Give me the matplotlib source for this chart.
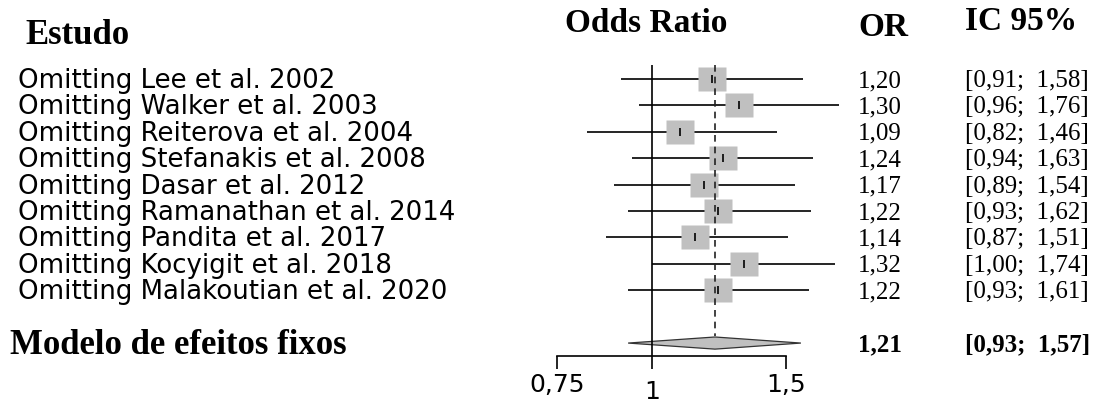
import matplotlib
matplotlib.use("Agg")
import matplotlib.pyplot as plt
import matplotlib.transforms as mtransforms
from matplotlib.ticker import NullLocator

# leave-one-out sensitivity analysis (odds ratios)
STUDIES = [
    "Omitting Lee et al. 2002",
    "Omitting Walker et al. 2003",
    "Omitting Reiterova et al. 2004",
    "Omitting Stefanakis et al. 2008",
    "Omitting Dasar et al. 2012",
    "Omitting Ramanathan et al. 2014",
    "Omitting Pandita et al. 2017",
    "Omitting Kocyigit et al. 2018",
    "Omitting Malakoutian et al. 2020",
]
OR_VALUES = [1.20, 1.30, 1.09, 1.24, 1.17, 1.22, 1.14, 1.32, 1.22]
CI_LOWER = [0.91, 0.96, 0.82, 0.94, 0.89, 0.93, 0.87, 1.00, 0.93]
CI_UPPER = [1.58, 1.76, 1.46, 1.63, 1.54, 1.62, 1.51, 1.74, 1.61]

POOLED_LABEL = "Modelo de efeitos fixos"
POOLED_OR = 1.21
POOLED_LO = 0.93
POOLED_HI = 1.57

X_TICKS = [0.75, 1, 1.5]
X_TICKLABELS = ["0,75", "1", "1,5"]

SERIF = "Liberation Serif"
SANS = "DejaVu Sans"
GREY = "#c0c0c0"


def fmt(v):
    return f"{v:.2f}".replace(".", ",")


fig = plt.figure(figsize=(11, 4.05), dpi=100)
ax = fig.add_axes([540 / 1100, 49 / 405, 310 / 1100, 356 / 405])
ax.set_xscale("log")
ax.set_xlim(0.712, 1.822)
ax.set_ylim(10.49, -2.99)

rows = list(range(len(STUDIES)))
pooled_row = len(STUDIES) + 1

# confidence intervals, boxes and point marks
ax.hlines(rows, CI_LOWER, CI_UPPER, color="black", lw=1.2)
box = [(-1.2, -1), (1.2, -1), (1.2, 1), (-1.2, 1)]
ax.plot(OR_VALUES, rows, ls="none", marker=box, ms=20.5, mfc=GREY, mec="none")
ax.plot(OR_VALUES, rows, ls="none", marker="|", ms=6, mec="black", mew=1.2)

# reference line at 1 and pooled estimate line
ax.vlines(1, -0.53, 10.49, color="black", lw=1.2)
ax.vlines(POOLED_OR, -0.53, pooled_row - 0.25, color="#222222", lw=1.2,
          linestyles=(0, (4, 3)))

# pooled diamond
ax.fill([POOLED_LO, POOLED_OR, POOLED_HI, POOLED_OR],
        [pooled_row, pooled_row - 0.23, pooled_row, pooled_row + 0.23],
        fc=GREY, ec="#333333", lw=0.9)

for side in ("top", "right", "left"):
    ax.spines[side].set_visible(False)
ax.spines["bottom"].set_bounds(X_TICKS[0], X_TICKS[-1])
ax.spines["bottom"].set_linewidth(1.2)
ax.set_yticks([])
ax.set_xticks(X_TICKS)
ax.xaxis.set_minor_locator(NullLocator())
ax.set_xticklabels(X_TICKLABELS)
ax.tick_params(axis="x", length=9.4, width=1.2, pad=3, labelsize=18)
for lbl in ax.get_xticklabels():
    lbl.set_family(SANS)
    if lbl.get_text() == "1":
        lbl.set_transform(lbl.get_transform()
                          + mtransforms.ScaledTranslation(0, -0.07, fig.dpi_scale_trans))

# text columns (nudged a couple of pixels down to sit on the rows)
blend = mtransforms.blended_transform_factory(fig.transFigure, ax.transData)
blend = blend + mtransforms.ScaledTranslation(0, -0.02, fig.dpi_scale_trans)
for r, name, orv, lo, hi in zip(rows, STUDIES, OR_VALUES, CI_LOWER, CI_UPPER):
    fig.text(18 / 1100, r, name, transform=blend, va="center", fontsize=18.7, family=SANS)
    fig.text(858 / 1100, r, fmt(orv), transform=blend, va="center", fontsize=18, family=SERIF)
    fig.text(965 / 1100, r, f"[{fmt(lo)};  {fmt(hi)}]", transform=blend, va="center",
             fontsize=18, family=SERIF)

fig.text(10 / 1100, pooled_row, POOLED_LABEL, transform=blend, va="center",
         fontsize=25, family=SERIF, fontweight="bold")
fig.text(858 / 1100, pooled_row, fmt(POOLED_OR), transform=blend, va="center",
         fontsize=18, family=SERIF, fontweight="bold")
fig.text(965 / 1100, pooled_row, f"[{fmt(POOLED_LO)};  {fmt(POOLED_HI)}]", transform=blend,
         va="center", fontsize=18, family=SERIF, fontweight="bold")

# headers
fig.text(25 / 1100, 1 - 35 / 405, "Estudo", va="center", fontsize=25, family=SERIF, fontweight="bold")
fig.text(565 / 1100, 1 - 24 / 405, "Odds Ratio", va="center", fontsize=24, family=SERIF, fontweight="bold")
fig.text(858 / 1100, 1 - 27 / 405, "OR", va="center", fontsize=24, family=SERIF, fontweight="bold")
fig.text(965 / 1100, 1 - 22 / 405, "IC 95%", va="center", fontsize=24, family=SERIF, fontweight="bold")

fig.savefig("out.png", dpi=100)
